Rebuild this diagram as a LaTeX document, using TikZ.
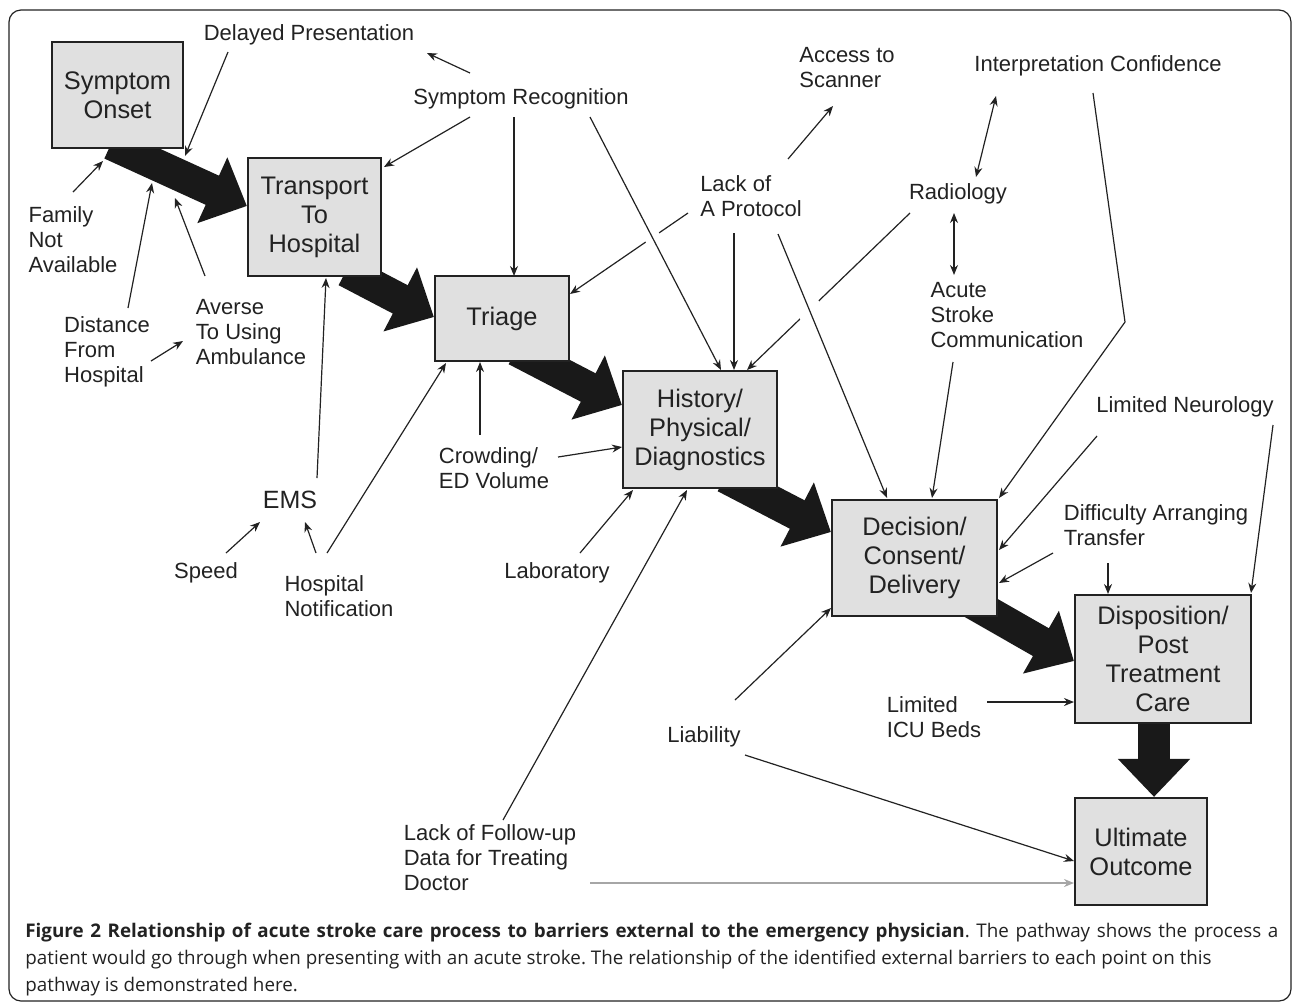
\documentclass[tikz,border=0pt]{standalone}
\usepackage{fontspec}
\setmainfont{Liberation Sans}
\newfontfamily\capfont{Open Sans}
\usetikzlibrary{arrows.meta,calc,backgrounds}
\frenchspacing

\definecolor{boxgray}{HTML}{E0E0E0}
\definecolor{ink}{HTML}{222222}

\begin{document}
\begin{tikzpicture}[x=0.5pt, y=-0.5pt,
  stage/.style={draw=ink, line width=1.1pt, fill=boxgray, align=center, inner sep=0pt, text=ink, font=\fontsize{12.7}{14.5}\selectfont},
  barrier/.style={align=left, inner sep=1pt, text=ink, font=\fontsize{11}{12.5}\selectfont},
  flow/.style={draw=black!90, line width=16pt, -{Triangle[width=35pt,length=19pt]}},
  link/.style={draw=ink, line width=0.6pt, >={Stealth[length=5pt,width=4pt]}},
  linegap/.style={preaction={draw=white, line width=#1, arrows=-, shorten >=25pt, shorten <=25pt}}]
\useasboundingbox (0,0) rectangle (1293,1003);
\draw[ink, line width=0.6pt, rounded corners=6pt] (9,10) rectangle (1291,1001);

\node[stage, minimum width=65.5pt, minimum height=53pt] (onset) at (117.5,95) {Symptom\\Onset};
\node[stage, minimum width=66.5pt, minimum height=59pt] (transport) at (314.5,217) {Transport\\To\\Hospital};
\node[stage, minimum width=67pt, minimum height=42.5pt] (triage) at (502,318.5) {Triage};
\node[stage, minimum width=77pt, minimum height=58.5pt] (hist) at (700,429.5) {History/\\Physical/\\Diagnostics};
\node[stage, minimum width=82.5pt, minimum height=58pt] (decision) at (914.5,558) {Decision/\\Consent/\\Delivery};
\node[stage, minimum width=88pt, minimum height=64pt] (dispo) at (1163,659) {Disposition/\\Post\\Treatment\\Care};
\node[stage, minimum width=66pt, minimum height=53.5pt] (outcome) at (1141,851.5) {Ultimate\\Outcome};

\begin{scope}[on background layer]
\draw[flow] ($(onset)+(-6.5,49)$) -- ($(transport.west)+(0,-11)$);
\draw[flow] ($(transport)+(31.5,54)$) -- ($(triage.west)+(0,-1.5)$);
\draw[flow] ($(triage)+(14,31.5)$) -- ($(hist.west)+(0,-24.5)$);
\draw[flow] ($(hist)+(25,47.5)$) -- ($(decision.west)+(0,-26)$);
\draw[flow] ($(decision)+(47.5,39)$) -- ($(dispo.west)+(0,2)$);
\draw[flow] ($(dispo)+(-9,41)$) -- ($(outcome.north)+(13,0)$);
\end{scope}

\node[barrier] (delayed) at (309,35) {Delayed Presentation};
\node[barrier] (recog) at (521,99) {Symptom Recognition};
\node[barrier] (scanner) at (847,68) {Access to\\Scanner};
\node[barrier] (interp) at (1098,66) {Interpretation Confidence};
\node[barrier] (protocol) at (751,196) {Lack of\\A Protocol};
\node[barrier] (radiology) at (958,194) {Radiology};
\node[barrier] (acs) at (1007,315) {Acute\\Stroke\\Communication};
\node[barrier] (family) at (73,240) {Family\\Not\\Available};
\node[barrier] (distance) at (107,352) {Distance\\From\\Hospital};
\node[barrier] (averse) at (251,332) {Averse\\To Using\\Ambulance};
\node[barrier, font=\fontsize{12.5}{14}\selectfont] (ems) at (290,500) {EMS};
\node[barrier] (speed) at (206,573) {Speed};
\node[barrier] (hospnot) at (339,596) {Hospital\\Notification};
\node[barrier] (crowding) at (494,468) {Crowding/\\ED Volume};
\node[barrier] (lab) at (557,573) {Laboratory};
\node[barrier] (neuro) at (1185,407) {Limited Neurology};
\node[barrier] (transfer) at (1156,525) {Difficulty Arranging\\Transfer};
\node[barrier] (icu) at (934,717) {Limited\\ICU Beds};
\node[barrier] (liability) at (704,737) {Liability};
\node[barrier] (followup) at (490,858) {Lack of Follow-up\\Data for Treating\\Doctor};

\draw[link, ->] ($(protocol)+(-63,17)$) -- ($(triage)+(68,-24.5)$);
\draw[link, ->] ($(radiology)+(-48,19)$) -- ($(hist)+(47,-59.5)$);
\draw[link, ->, linegap=8pt] ($(recog)+(69,18)$) -- ($(hist)+(21,-59.5)$);
\draw[link, ->, linegap=12pt] ($(protocol)+(27,38)$) -- ($(decision)+(-27.5,-60)$);

\draw[link, ->] ($(recog)+(-51,-26)$) -- ($(delayed)+(118,18)$);
\draw[link, ->] ($(delayed)+(-81,17)$) -- ($(onset)+(67.5,61)$);
\draw[link, ->] ($(recog)+(-51,18)$) -- ($(transport)+(69.5,-50)$);
\draw[link, ->] ($(recog)+(-7,18)$) -- ($(triage)+(12,-42.5)$);
\draw[link, ->] ($(protocol)+(37,-37)$) -- ($(scanner)+(-14,38)$);
\draw[link, ->] ($(protocol)+(-17,37)$) -- ($(hist)+(34,-59.5)$);
\draw[link, <->] ($(interp)+(-102,30)$) -- ($(radiology)+(18,-17)$);
\draw[link, <->] ($(radiology)+(-4,19)$) -- ($(acs)+(-53,-40)$);
\draw[link, ->] ($(acs)+(-54,47)$) -- ($(decision)+(17.5,-60)$);
\draw[link, ->] ($(interp)+(-5,27)$) -- ($(interp)+(27,256)$) -- ($(decision)+(84.5,-60)$);
\draw[link, ->] ($(neuro)+(-88,29)$) -- ($(decision)+(84.5,-8)$);
\draw[link, ->] ($(neuro)+(88,18)$) -- ($(dispo)+(88,-66)$);
\draw[link, ->] ($(transfer)+(-103,28)$) -- ($(decision)+(84.5,25)$);
\draw[link, ->] ($(transfer)+(-48,38)$) -- ($(dispo)+(-55,-65)$);
\draw[link, ->] ($(icu)+(53,-15)$) -- ($(dispo)+(-89,43)$);
\draw[link, ->] ($(liability)+(31,-37)$) -- ($(decision)+(-83.5,50)$);
\draw[link, ->] ($(liability)+(41,18)$) -- ($(outcome)+(-67,9.5)$);
\draw[link, ->, draw=gray!70, line width=1pt] ($(followup)+(100,25)$) -- ($(outcome)+(-67,31.5)$);
\draw[link, ->] ($(followup)+(13,-38)$) -- ($(hist)+(-13,60.5)$);
\draw[link, ->] ($(lab)+(23,-20)$) -- ($(hist)+(-67,60.5)$);
\draw[link, ->] ($(crowding)+(64,-11)$) -- ($(hist)+(-78,17.5)$);
\draw[link, ->] ($(crowding)+(-14,-33)$) -- ($(triage)+(-22,43.5)$);
\draw[link, ->] ($(hospnot)+(-12,-43)$) -- ($(triage)+(-56,44.5)$);
\draw[link, ->] ($(hospnot)+(-23,-43)$) -- ($(ems)+(15,22)$);
\draw[link, ->] ($(speed)+(20,-20)$) -- ($(ems)+(-30,22)$);
\draw[link, ->] ($(ems)+(27,-22)$) -- ($(transport)+(11.5,61)$);
\draw[link, ->] ($(family)+(0,-48)$) -- ($(onset)+(-14.5,66)$);
\draw[link, ->] ($(distance)+(21,-44)$) -- ($(onset)+(34.5,88)$);
\draw[link, ->] ($(distance)+(44,9)$) -- ($(averse)+(-68,9)$);
\draw[link, ->] ($(averse)+(-46,-56)$) -- ($(onset)+(57.5,103)$);

\node[anchor=north west, inner sep=0pt, text width=626.5pt, align=justify, text=ink, font=\capfont\fontsize{9.4}{13.4}\selectfont] (caption) at (25,923)
  {\textbf{Figure 2 Relationship of acute stroke care process to barriers external to the emergency physician}. The pathway shows the process a\linebreak
   patient would go through when presenting with an acute stroke. The relationship of the identified external barriers to each point on this\\
   pathway is demonstrated here.};
\end{tikzpicture}
\end{document}
